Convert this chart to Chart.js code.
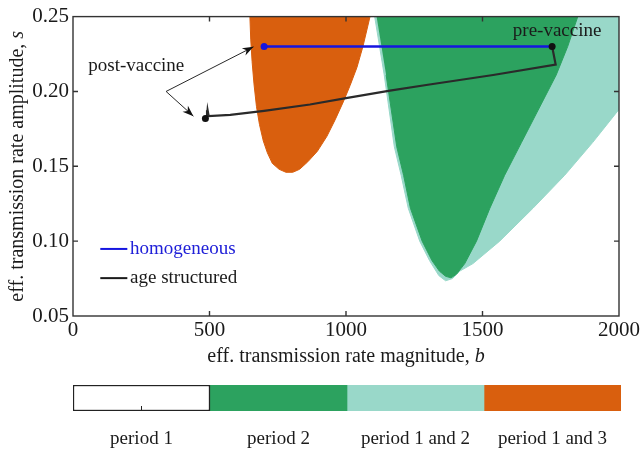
<!DOCTYPE html>
<html>
<head>
<meta charset="utf-8">
<script src="https://cdn.jsdelivr.net/npm/chart.js@4.4.0/dist/chart.umd.min.js"></script>
<style>
  html, body { margin: 0; padding: 0; background: #fff; }
  #wrap { position: relative; width: 643px; height: 466px; }
  #main { position: absolute; left: 0; top: 0; }
  #bar { position: absolute; left: 0; top: 370px; }
</style>
</head>
<body>
<div id="wrap">
  <canvas id="main" width="643" height="370"></canvas>
  <canvas id="bar" width="643" height="96"></canvas>
</div>
<script>
// region outlines (b, s)
const orangeB = [648, 651, 656, 663, 672, 683, 697, 712, 730, 755, 780, 805, 830, 860, 895, 930, 960, 990, 1015, 1040, 1062, 1088];
const orangeS = [0.25, 0.235, 0.22, 0.205, 0.19, 0.178, 0.167, 0.159, 0.152, 0.148, 0.146, 0.146, 0.148, 0.153, 0.160, 0.170, 0.181, 0.193, 0.204, 0.216, 0.230, 0.25];

const tealB = [1105, 1140, 1177, 1202, 1228, 1270, 1306, 1340, 1365, 1390, 1417, 1465, 1563, 1685, 1801, 1904, 2000, 2000];
const tealS = [0.25, 0.211, 0.163, 0.144, 0.122, 0.10, 0.087, 0.077, 0.0735, 0.075, 0.08, 0.085, 0.10, 0.122, 0.144, 0.166, 0.188, 0.25];

const greenB = [1112, 1849, 1812, 1770, 1643, 1581, 1527, 1478, 1435, 1405, 1385, 1365, 1342, 1315, 1279, 1236, 1211, 1186, 1147];
const greenS = [0.25, 0.25, 0.23, 0.211, 0.166, 0.144, 0.122, 0.10, 0.085, 0.078, 0.0755, 0.0765, 0.08, 0.087, 0.10, 0.122, 0.144, 0.163, 0.211];

// trajectories pre-vaccine -> post-vaccine
const homogB = [700, 1755];
const homogS = [0.23, 0.23];
const ageB = [1755, 1768, 1539, 1300, 1161, 1000, 868, 700, 576, 497, 493, 491, 485];
const ageS = [0.23, 0.218, 0.211, 0.2045, 0.2005, 0.1955, 0.1913, 0.187, 0.1843, 0.1835, 0.1875, 0.1835, 0.182];

const xTicks = [0, 500, 1000, 1500, 2000];
const yTicks = [0.05, 0.10, 0.15, 0.20, 0.25];

const periodLabels = ['period 1', 'period 2', 'period 1 and 2', 'period 1 and 3'];
const periodColors = ['#ffffff', '#2ca25f', '#99d8c9', '#d95f0e'];

const serif = 'Liberation Serif';
const ink = '#1a1a1a';

const pts = (bs, ss) => bs.map((b, i) => ({ x: b, y: ss[i] }));

function arrow(ctx, x0, y0, x1, y1) {
    ctx.beginPath();
    ctx.moveTo(x0, y0);
    ctx.lineTo(x1, y1);
    ctx.stroke();
    const a = Math.atan2(y1 - y0, x1 - x0);
    const L = 11, W = 4;
    ctx.beginPath();
    ctx.moveTo(x1, y1);
    ctx.lineTo(x1 - L * Math.cos(a) + W * Math.sin(a), y1 - L * Math.sin(a) - W * Math.cos(a));
    ctx.lineTo(x1 - 0.7 * L * Math.cos(a), y1 - 0.7 * L * Math.sin(a));
    ctx.lineTo(x1 - L * Math.cos(a) - W * Math.sin(a), y1 - L * Math.sin(a) + W * Math.cos(a));
    ctx.closePath();
    ctx.fill();
}

function mixedText(ctx, parts, cx, cy) {
    let w = 0;
    parts.forEach(p => { ctx.font = p[1]; w += ctx.measureText(p[0]).width; });
    let x = cx - w / 2;
    ctx.textAlign = 'left';
    ctx.textBaseline = 'middle';
    parts.forEach(p => { ctx.font = p[1]; ctx.fillText(p[0], x, cy); x += ctx.measureText(p[0]).width; });
}

const frame = {
    id: 'frame',
    afterDraw(chart) {
        const ctx = chart.ctx, a = chart.chartArea;
        const xs = chart.scales.x, ys = chart.scales.y;
        ctx.save();
        ctx.strokeStyle = '#333';
        ctx.lineWidth = 1.4;
        ctx.strokeRect(a.left, a.top, a.right - a.left, a.bottom - a.top);
        ctx.beginPath();
        xTicks.slice(1, -1).forEach(v => {
            const px = xs.getPixelForValue(v);
            ctx.moveTo(px, a.bottom); ctx.lineTo(px, a.bottom - 5);
            ctx.moveTo(px, a.top); ctx.lineTo(px, a.top + 5);
        });
        yTicks.slice(1, -1).forEach(v => {
            const py = ys.getPixelForValue(v);
            ctx.moveTo(a.left, py); ctx.lineTo(a.left + 5, py);
            ctx.moveTo(a.right, py); ctx.lineTo(a.right - 5, py);
        });
        ctx.stroke();

        // axis titles
        ctx.fillStyle = ink;
        mixedText(ctx, [['eff. transmission rate magnitude, ', '20px ' + serif], ['b', 'italic 20px ' + serif]],
            (a.left + a.right) / 2, 357);
        ctx.save();
        ctx.translate(18, (a.top + a.bottom) / 2);
        ctx.rotate(-Math.PI / 2);
        mixedText(ctx, [['eff. transmission rate amplitude, ', '20px ' + serif], ['s', 'italic 20px ' + serif]], 0, 0);
        ctx.restore();

        // annotations
        ctx.font = '19px ' + serif;
        ctx.textAlign = 'left';
        ctx.textBaseline = 'middle';
        ctx.fillText('post-vaccine', xs.getPixelForValue(56), ys.getPixelForValue(0.2168));
        ctx.fillText('pre-vaccine', xs.getPixelForValue(1611), ys.getPixelForValue(0.2406));
        ctx.strokeStyle = '#111';
        ctx.fillStyle = '#111';
        ctx.lineWidth = 0.9;
        const fx = xs.getPixelForValue(341), fy = ys.getPixelForValue(0.200);
        arrow(ctx, fx, fy, xs.getPixelForValue(661), ys.getPixelForValue(0.2298));
        arrow(ctx, fx, fy, xs.getPixelForValue(441), ys.getPixelForValue(0.1835));

        // legend
        const lx0 = xs.getPixelForValue(100), lx1 = xs.getPixelForValue(199), tx = xs.getPixelForValue(209);
        [[0.0948, '#1515e0', 'homogeneous', '#2020d8'], [0.0753, '#1a1a1a', 'age structured', ink]].forEach(r => {
            const py = ys.getPixelForValue(r[0]);
            ctx.strokeStyle = r[1];
            ctx.lineWidth = 2;
            ctx.beginPath(); ctx.moveTo(lx0, py); ctx.lineTo(lx1, py); ctx.stroke();
            ctx.fillStyle = r[3];
            ctx.font = '19px ' + serif;
            ctx.fillText(r[2], tx, py);
        });
        ctx.restore();
    }
};

new Chart(document.getElementById('main'), {
    type: 'scatter',
    data: {
        datasets: [
            {
                label: 'homogeneous', data: pts(homogB, homogS), showLine: true,
                borderColor: '#1515e0', borderWidth: 2.5,
                pointRadius: [3.5, 0], pointBackgroundColor: '#1515e0', pointBorderWidth: 0, order: 1
            },
            {
                label: 'age structured', data: pts(ageB, ageS), showLine: true,
                borderColor: '#2a2a2a', borderWidth: 2.2,
                pointRadius: ctx => (ctx.dataIndex === 0 || ctx.dataIndex === ageB.length - 1) ? 3.5 : 0,
                pointBackgroundColor: '#111', pointBorderWidth: 0, order: 0
            },
            {
                label: 'period 1 and 3', data: pts(orangeB, orangeS), showLine: true, fill: 'shape',
                backgroundColor: periodColors[3], borderColor: periodColors[3], borderWidth: 1, pointRadius: 0, order: 3
            },
            {
                label: 'period 2', data: pts(greenB, greenS), showLine: true, fill: 'shape',
                backgroundColor: periodColors[1], borderColor: periodColors[1], borderWidth: 1, pointRadius: 0, order: 4
            },
            {
                label: 'period 1 and 2', data: pts(tealB, tealS), showLine: true, fill: 'shape',
                backgroundColor: periodColors[2], borderColor: periodColors[2], borderWidth: 1, pointRadius: 0, order: 5
            }
        ]
    },
    options: {
        responsive: false,
        animation: false,
        layout: { padding: { top: 13, right: 24, left: 0, bottom: 0 } },
        scales: {
            x: {
                type: 'linear', min: 0, max: 2000,
                afterBuildTicks: s => { s.ticks = xTicks.map(v => ({ value: v })); },
                ticks: { font: { family: serif, size: 21 }, color: ink, padding: 2, maxRotation: 0, callback: v => String(v) },
                grid: { display: false, drawTicks: false },
                border: { display: false },
                afterFit: s => { s.height = 54; }
            },
            y: {
                type: 'linear', min: 0.05, max: 0.25,
                afterBuildTicks: s => { s.ticks = yTicks.map(v => ({ value: v })); },
                ticks: { font: { family: serif, size: 21 }, color: ink, padding: 4, callback: v => v.toFixed(2) },
                grid: { display: false, drawTicks: false },
                border: { display: false },
                afterFit: s => { s.width = 73; }
            }
        },
        plugins: { legend: { display: false }, tooltip: { enabled: false } }
    },
    plugins: [frame]
});

// colour key below the plot
const keyTick = {
    id: 'keyTick',
    afterDraw(chart) {
        const ctx = chart.ctx, a = chart.chartArea;
        const px = chart.scales.x.getPixelForValue(0.5);
        ctx.save();
        ctx.strokeStyle = '#222';
        ctx.lineWidth = 1;
        ctx.beginPath(); ctx.moveTo(px, a.bottom); ctx.lineTo(px, a.bottom - 5); ctx.stroke();
        ctx.restore();
    }
};

new Chart(document.getElementById('bar'), {
    type: 'bar',
    data: {
        labels: [''],
        datasets: periodLabels.map((p, i) => ({
            label: p, data: [1],
            backgroundColor: periodColors[i],
            borderColor: i === 0 ? '#222' : periodColors[i],
            borderWidth: i === 0 ? 1.5 : 0,
            borderSkipped: false,
            barPercentage: 1, categoryPercentage: 1
        }))
    },
    options: {
        indexAxis: 'y',
        responsive: false,
        animation: false,
        layout: { padding: { left: 73, right: 22, top: 15, bottom: 0 } },
        scales: {
            x: {
                stacked: true, min: 0, max: 4,
                afterBuildTicks: s => { s.ticks = periodLabels.map((p, i) => ({ value: i + 0.5 })); },
                ticks: { callback: (v, i) => periodLabels[i], font: { family: serif, size: 19 }, color: ink, padding: 17, maxRotation: 0 },
                grid: { display: false, drawTicks: false },
                border: { display: false },
                afterFit: s => { s.height = 55; }
            },
            y: { stacked: true, display: false }
        },
        plugins: { legend: { display: false }, tooltip: { enabled: false } }
    },
    plugins: [keyTick]
});
</script>
</body>
</html>
